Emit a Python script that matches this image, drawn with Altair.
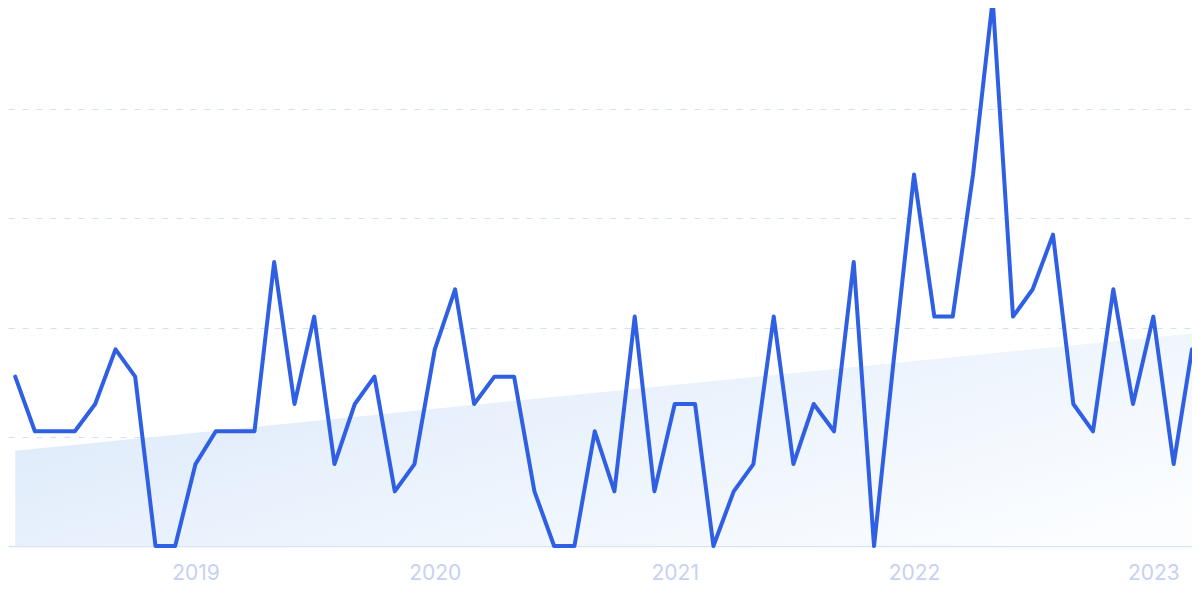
import altair as alt
import pandas as pd

months = [d.strftime("%Y-%m-%d") for d in pd.date_range("2018-04-01", periods=60, freq="MS")]
values = [
    31, 21, 21, 21, 26, 36, 31, 0, 0,              # 2018 Apr-Dec
    15, 21, 21, 21, 52, 26, 42, 15, 26, 31, 10, 15,  # 2019
    36, 47, 26, 31, 31, 10, 0, 0, 21, 10, 42, 10,    # 2020
    26, 26, 0, 10, 15, 42, 15, 26, 21, 52, 0, 34,    # 2021
    68, 42, 42, 68, 100, 42, 47, 57, 26, 21, 47, 26, # 2022
    42, 15, 36,                                      # 2023 Jan-Mar
]

df = pd.DataFrame({"date": months, "value": values})

x_scale = alt.Scale(domain=[alt.DateTime(year=2018, month=3, date=21, utc=True),
                            alt.DateTime(year=2023, month=3, date=1, utc=True)])
y_scale = alt.Scale(domain=[0, 98.5], nice=False, zero=True)

base = alt.Chart(df)

trend = base.transform_regression("date", "value", method="linear").mark_area(
    clip=False,
    color=alt.Gradient(
        gradient="linear",
        stops=[alt.GradientStop(color="#dce9fa", offset=0),
               alt.GradientStop(color="#fbfdff", offset=1)],
        x1=0, y1=0.2, x2=1, y2=0.8,
    ),
).encode(
    x=alt.X("date:T", scale=x_scale,
            axis=alt.Axis(format="%Y", tickCount="year", grid=False, ticks=False,
                          domainColor="#d6e4f8", domainWidth=1.5,
                          labelColor="#c6d1f3", labelFont="Inter", labelFontSize=21,
                          labelPadding=16, title=None)),
    y=alt.Y("value:Q", scale=y_scale,
            axis=alt.Axis(values=[0, 20, 40, 60, 80, 100], labels=False, ticks=False,
                          domain=False, grid=True, gridColor="#d2e0f9",
                          gridDash=[6, 8], gridWidth=1.2, title=None)),
)

line = base.mark_line(color="#2f5fe3", strokeWidth=4, clip=False,
                      strokeJoin="round", strokeCap="round").encode(
    x=alt.X("date:T", scale=x_scale),
    y=alt.Y("value:Q", scale=y_scale),
)

chart = alt.layer(trend, line).properties(
    width=1184, height=538,
    padding={"left": 0, "top": 0, "right": 0, "bottom": 44},
    autosize=alt.AutoSizeParams(type="none"),
).configure_view(stroke=None)

chart.save("out.html", embed_options={"renderer": "svg", "actions": False})
